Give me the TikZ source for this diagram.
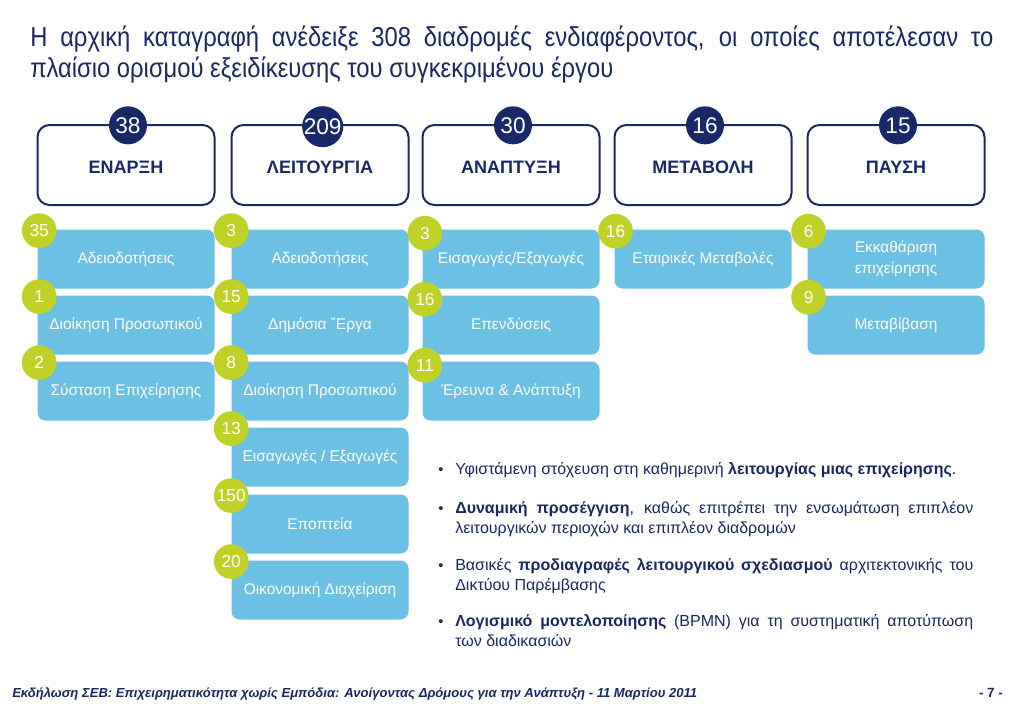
\documentclass[tikz,border=0pt]{standalone}
\usepackage{fontspec}
\setmainfont{Liberation Sans}
\newfontfamily\titlefont[FakeStretch=0.87]{Liberation Sans}
\definecolor{navy}{RGB}{25,40,105}
\definecolor{sky}{RGB}{108,192,228}
\definecolor{lime}{RGB}{192,210,40}
\begin{document}
\begin{tikzpicture}[x=0.75pt,y=-0.75pt,
  hdr/.style={draw=navy, line width=1.5pt, rounded corners=9pt, minimum width=132.75pt, minimum height=60pt, inner sep=0pt, text=navy, font=\bfseries\fontsize{13.5}{15}\selectfont},
  hdrlabel/.style={inner sep=0pt, text=navy, font=\bfseries\fontsize{13.5}{15}\selectfont},
  navycirc/.style={circle, fill=navy, minimum size=28.5pt, inner sep=0pt, text=white, font=\fontsize{17}{17}\selectfont},
  itembox/.style={fill=sky, rounded corners=6pt, minimum width=132.75pt, minimum height=44.25pt, inner sep=0pt, text=white, align=center, font=\fontsize{11.6}{16}\selectfont},
  limecirc/.style={circle, fill=lime, minimum size=26pt, inner sep=0pt, text=white, font=\fontsize{13}{13}\selectfont},
  bultext/.style={anchor=base west, inner sep=0pt, text width=388.5pt, align=justify, text=navy, font=\fontsize{12}{15}\selectfont},
  buldot/.style={anchor=base, inner sep=0pt, text=navy, font=\fontsize{11}{15}\selectfont}
]
\useasboundingbox[fill=white] (0,0) rectangle (1023,708);

% title
\node[anchor=north west, inner sep=0pt, text width=722.25pt, align=justify, text=navy, font=\titlefont\fontsize{20.5}{23.25}\selectfont] (title) at (30,26)
  {Η αρχική καταγραφή ανέδειξε 308 διαδρομές ενδιαφέροντος, οι οποίες αποτέλεσαν το\linebreak πλαίσιο ορισμού εξειδίκευσης του συγκεκριμένου έργου};

% header boxes
\node[hdr] (h1) at (126,165) {};
\node[hdr] (h2) at (320,165) {};
\node[hdr] (h3) at (511,165) {};
\node[hdr] (h4) at (703,165) {};
\node[hdr] (h5) at (896,165) {};
\node[hdrlabel] (l1) at (126,167) {ΕΝΑΡΞΗ};
\node[hdrlabel] (l2) at (320,167) {ΛΕΙΤΟΥΡΓΙΑ};
\node[hdrlabel] (l3) at (511,167) {ΑΝΑΠΤΥΞΗ};
\node[hdrlabel] (l4) at (703,167) {ΜΕΤΑΒΟΛΗ};
\node[hdrlabel] (l5) at (896,167) {ΠΑΥΣΗ};
\node[navycirc] (n1) at ([xshift=1.5pt,yshift=-1pt]h1.north) {38};
\node[navycirc] (n2) at ([xshift=2pt,yshift=-2pt]h2.north) {209};
\node[navycirc] (n3) at ([xshift=1.5pt,yshift=-1pt]h3.north) {30};
\node[navycirc] (n4) at ([xshift=1.5pt,yshift=-1pt]h4.north) {16};
\node[navycirc] (n5) at ([xshift=1.5pt,yshift=-1pt]h5.north) {15};

% column 1
\node[itembox] (a1) at (126,259) {Αδειοδοτήσεις};
\node[itembox] (a2) at (126,325) {Διοίκηση Προσωπικού};
\node[itembox] (a3) at (126,391) {Σύσταση Επιχείρησης};
% column 2
\node[itembox] (b1) at (320,259) {Αδειοδοτήσεις};
\node[itembox] (b2) at (320,325) {Δημόσια ῎Εργα};
\node[itembox] (b3) at (320,391) {Διοίκηση Προσωπικού};
\node[itembox] (b4) at (320,457) {Εισαγωγές / Εξαγωγές};
\node[itembox] (b5) at (320,524) {Εποπτεία};
\node[itembox] (b6) at (320,590) {Οικονομική Διαχείριση};
% column 3
\node[itembox] (c1) at (511,259) {Εισαγωγές/Εξαγωγές};
\node[itembox] (c2) at (511,325) {Επενδύσεις};
\node[itembox] (c3) at (511,391) {Έρευνα \& Ανάπτυξη};
% column 4
\node[itembox] (d1) at (703,259) {Εταιρικές Μεταβολές};
% column 5
\node[itembox] (e1) at (896,259) {Εκκαθάριση\\επιχείρησης};
\node[itembox] (e2) at (896,325) {Μεταβίβαση};

% lime circles
\node[limecirc] (la1) at ([xshift=1.5pt,yshift=-1pt]a1.north west) {35};
\node[limecirc] (la2) at ([xshift=1.5pt,yshift=-1pt]a2.north west) {1};
\node[limecirc] (la3) at ([xshift=1.5pt,yshift=-1pt]a3.north west) {2};
\node[limecirc] (lb1) at ([xshift=0pt,yshift=-1pt]b1.north west) {3};
\node[limecirc] (lb2) at ([xshift=0pt,yshift=-1pt]b2.north west) {15};
\node[limecirc] (lb3) at ([xshift=0pt,yshift=-1pt]b3.north west) {8};
\node[limecirc] (lb4) at ([xshift=0pt,yshift=-1pt]b4.north west) {13};
\node[limecirc] (lb5) at ([xshift=0pt,yshift=-1pt]b5.north west) {150};
\node[limecirc] (lb6) at ([xshift=0pt,yshift=-1pt]b6.north west) {20};
\node[limecirc] (lc1) at ([xshift=2pt,yshift=-3pt]c1.north west) {3};
\node[limecirc] (lc2) at ([xshift=2pt,yshift=-3pt]c2.north west) {16};
\node[limecirc] (lc3) at ([xshift=2pt,yshift=-3pt]c3.north west) {11};
\node[limecirc] (ld1) at ([xshift=1pt,yshift=-1.5pt]d1.north west) {16};
\node[limecirc] (le1) at ([xshift=1pt,yshift=-1.5pt]e1.north west) {6};
\node[limecirc] (le2) at ([xshift=1pt,yshift=-1.5pt]e2.north west) {9};

% bullets
\node[buldot] (p1) at (441,474) {•};
\node[bultext] (t1) at (455,474) {Υφιστάμενη στόχευση στη καθημερινή \textbf{λειτουργίας μιας επιχείρησης}.};
\node[buldot] (p2) at (441,513) {•};
\node[bultext] (t2) at (455,513) {\textbf{Δυναμική προσέγγιση}, καθώς επιτρέπει την ενσωμάτωση επιπλέον λειτουργικών περιοχών και επιπλέον διαδρομών};
\node[buldot] (p3) at (441,570) {•};
\node[bultext] (t3) at (455,570) {Βασικές \textbf{προδιαγραφές λειτουργικού σχεδιασμού} αρχιτεκτονικής του Δικτύου Παρέμβασης};
\node[buldot] (p4) at (441,626) {•};
\node[bultext] (t4) at (455,626) {\textbf{Λογισμικό μοντελοποίησης} (BPMN) για τη συστηματική αποτύπωση\linebreak των διαδικασιών};

% footer
\node[anchor=base west, inner sep=0pt, text=navy, font=\bfseries\itshape\fontsize{9.8}{12}\selectfont] (foot) at (12,697)
  {Εκδήλωση ΣΕΒ: Επιχειρηματικότητα χωρίς Εμπόδια: Ανοίγοντας Δρόμους για την Ανάπτυξη - 11 Μαρτίου 2011};
\node[anchor=base east, inner sep=0pt, text=navy, font=\bfseries\fontsize{10}{12}\selectfont] (page) at (1003,697) {- 7 -};
\end{tikzpicture}
\end{document}
